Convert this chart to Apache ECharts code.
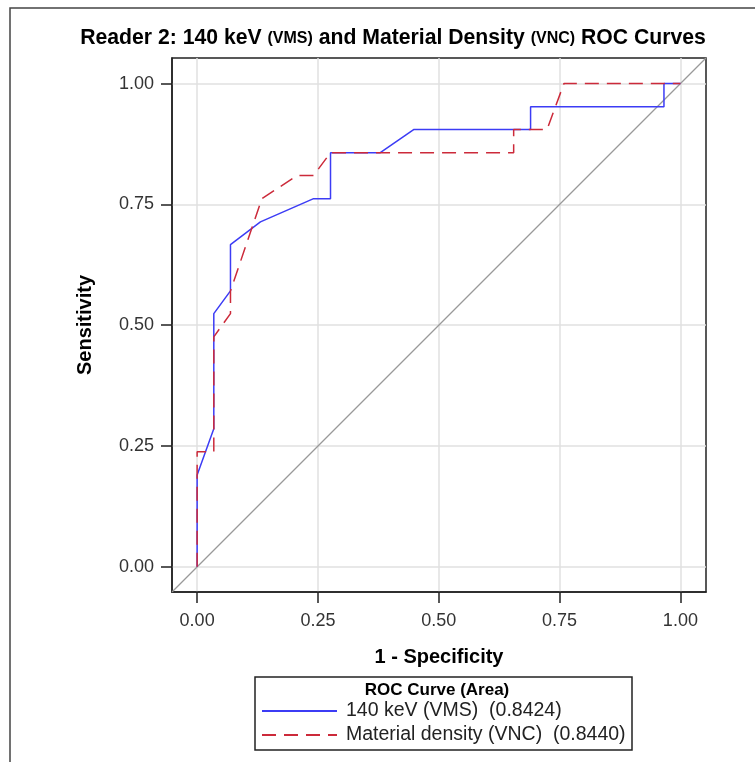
<!DOCTYPE html>
<html><head><meta charset="utf-8">
<script src="https://cdn.jsdelivr.net/npm/echarts@6/dist/echarts.min.js"></script>
<style>html,body{margin:0;padding:0;background:#fff}#c{width:755px;height:762px}</style>
</head><body><div id="c"></div>
<script>
// Data (1 - Specificity, Sensitivity)
const vmsName = '140 keV (VMS)  (0.8424)';
const vncName = 'Material density (VNC)  (0.8440)';
const vmsX = [0, 0, 0.0345, 0.0345, 0.069, 0.069, 0.131, 0.241, 0.276, 0.276, 0.379, 0.448, 0.690, 0.690, 0.966, 0.966, 1];
const vmsY = [0, 0.190, 0.286, 0.524, 0.571, 0.667, 0.714, 0.762, 0.762, 0.857, 0.857, 0.905, 0.905, 0.952, 0.952, 1, 1];
const vncX = [0, 0, 0.0345, 0.0345, 0.069, 0.069, 0.134, 0.207, 0.241, 0.276, 0.655, 0.655, 0.724, 0.759, 1];
const vncY = [0, 0.238, 0.238, 0.476, 0.524, 0.571, 0.762, 0.810, 0.810, 0.857, 0.857, 0.905, 0.905, 1, 1];
const tickValues = [0, 0.25, 0.5, 0.75, 1];
const axisMin = -0.052, axisMax = 1.053;

const zip = (xs, ys) => xs.map((x, i) => [x, ys[i]]);
const chart = echarts.init(document.getElementById('c'), null, {renderer: 'canvas'});
const font = 'Liberation Sans, Arial, sans-serif';
const axisCommon = (name, margin) => ({
  type: 'value', min: axisMin, max: axisMax,
  name: name, nameLocation: 'middle',
  nameTextStyle: {fontFamily: font, fontWeight: 'bold', fontSize: 20, color: '#000'},
  axisLine: {show: true, onZero: false, lineStyle: {color: '#222', width: 1.5}},
  axisTick: {show: true, inside: false, length: 11, customValues: tickValues, lineStyle: {color: '#222', width: 1.5}},
  axisLabel: {customValues: tickValues, fontFamily: font, fontSize: 18, color: '#333', margin: margin,
    formatter: v => v.toFixed(2)},
  splitLine: {show: true, lineStyle: {color: '#e0e0e0', width: 1.5}}
});
const xAxis = axisCommon('1 - Specificity', 20); xAxis.nameGap = 55;
const yAxis = axisCommon('Sensitivity', 18); yAxis.nameGap = 77;
chart.setOption({
  animation: false,
  backgroundColor: '#fff',
  title: {
    text: '{a|Reader 2: 140 keV }{b|(VMS)}{a| and Material Density }{b|(VNC)}{a| ROC Curves}',
    left: 388, top: 23, textAlign: 'center',
    textStyle: {rich: {
      a: {fontFamily: font, fontWeight: 'bold', fontSize: 21.2, color: '#000'},
      b: {fontFamily: font, fontWeight: 'bold', fontSize: 16, color: '#000'}
    }}
  },
  grid: {left: 172, top: 58, right: 49, bottom: 170, show: true, borderColor: '#222', borderWidth: 1.5, containLabel: false},
  xAxis: xAxis,
  yAxis: yAxis,
  legend: {
    data: [vmsName, vncName], orient: 'vertical', left: 261, top: 701,
    itemWidth: 75, itemHeight: 14, itemGap: 4, padding: 0,
    itemStyle: {opacity: 0},
    textStyle: {fontFamily: font, fontSize: 19.5, color: '#222', lineHeight: 19, padding: [0, 0, 0, 4]},
    selectedMode: false
  },
  graphic: [
    {type: 'rect', shape: {x: 10, y: 8, width: 800, height: 800}, style: {fill: 'none', stroke: '#444', lineWidth: 1.5}, silent: true},
    {type: 'rect', shape: {x: 255, y: 677, width: 377, height: 73}, style: {fill: 'none', stroke: '#222', lineWidth: 1.5}, silent: true},
    {type: 'text', x: 437, y: 690, style: {text: 'ROC Curve (Area)', fontFamily: font, fontWeight: 'bold', fontSize: 17, fill: '#000', align: 'center', verticalAlign: 'middle'}, silent: true}
  ],
  series: [
    {type: 'line', name: 'diag', data: [[axisMin, axisMin], [axisMax, axisMax]], symbol: 'none',
      lineStyle: {color: '#999', width: 1.3}, silent: true, z: 1},
    {type: 'line', name: vmsName, data: zip(vmsX, vmsY), symbol: 'none',
      lineStyle: {color: '#3c3cf5', width: 1.5}, itemStyle: {color: '#3c3cf5'}, z: 3},
    {type: 'line', name: vncName, data: zip(vncX, vncY), symbol: 'none',
      lineStyle: {color: '#cc2a3a', width: 1.5, type: [14, 8]}, itemStyle: {color: '#cc2a3a'}, z: 4}
  ]
});
</script></body></html>
